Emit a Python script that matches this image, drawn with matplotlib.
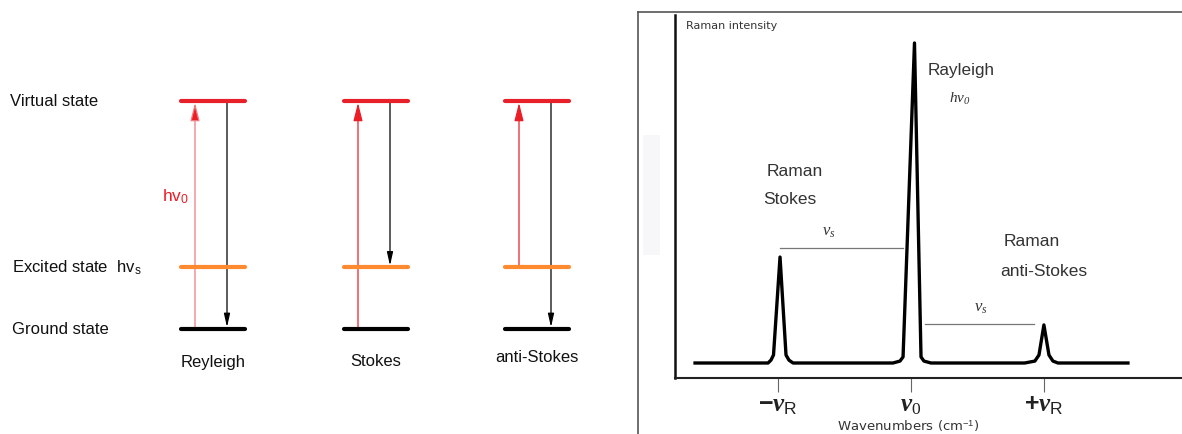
import matplotlib
matplotlib.use('Agg')
import matplotlib.pyplot as plt
from matplotlib.lines import Line2D
from matplotlib.patches import Rectangle

plt.rcParams['font.family'] = ['Liberation Sans', 'DejaVu Sans']
plt.rcParams['mathtext.fontset'] = 'custom'
plt.rcParams['mathtext.rm'] = 'Liberation Sans'
plt.rcParams['mathtext.it'] = 'Liberation Serif:italic:bold'
plt.rcParams['mathtext.bf'] = 'Liberation Sans:bold'
plt.rcParams['mathtext.sf'] = 'Liberation Serif:italic'
plt.rcParams['mathtext.tt'] = 'Liberation Serif'

# ---------------- data ----------------
# energy level diagram (arbitrary energy units)
level_keys = ['virtual', 'excited', 'ground']
level_labels = ['Virtual state', 'Excited state  hv$_{\\rm s}$', 'Ground state']
level_energy = [1.0, 0.27, 0.0]
level_colors = ['#e8202a', '#ff8a30', '#000000']

processes = ['Reyleigh', 'Stokes', 'anti-Stokes']
absorb_from = ['ground', 'ground', 'excited']
emit_to = ['ground', 'excited', 'ground']

# Raman spectrum (wavenumber in units of nu_R relative to nu_0, intensity relative to Rayleigh)
spec_x = [-1.620, -1.071, -1.049, -1.030, -0.981, -0.936, -0.914, -0.883,
          -0.132, -0.079, -0.056, 0.030, 0.079, 0.101, 0.154,
          0.859, 0.935, 0.966, 1.003, 1.041, 1.071, 1.109, 1.635]
spec_y = [0.0, 0.0, 0.009, 0.025, 0.331, 0.025, 0.009, 0.0,
          0.0, 0.006, 0.019, 1.0, 0.019, 0.006, 0.0,
          0.0, 0.006, 0.025, 0.119, 0.025, 0.006, 0.0, 0.0]
tick_pos = [-1, 0, 1]
tick_labels = [r'$\mathbf{-}\nu_{\rm R}$', r'$\nu_{\mathtt{0}}$', r'$\mathbf{+}\nu_{\rm R}$']

W, H = 1182, 434
def fx(p):
    return p / W
def fy(p):
    return 1 - p / H

fig = plt.figure(figsize=(11.82, 4.34), dpi=100)

# ---------------- left: energy diagram ----------------
ax1 = fig.add_axes([0, 0, 630 / W, 1])
ax1.set_xlim(0, 630)
def E(py):
    return (329 - py) / 228.0
ax1.set_ylim(E(434), E(0))
ax1.axis('off')

centers = [213, 376, 537]
half = 32
lev = dict(zip(level_keys, level_energy))
for c in centers:
    for k, col in zip(level_keys, level_colors):
        ax1.plot([c - half, c + half], [lev[k], lev[k]], color=col, lw=3,
                 solid_capstyle='round', zorder=3)

up_colors = ['#f07a80', '#e8202a', '#e8202a']
down_colors = ['#000000', '#888888', '#333333']
for i, c in enumerate(centers):
    # absorption (red up arrow)
    ax1.annotate('', xy=(c - 18, lev['virtual'] - 0.008), xytext=(c - 18, lev[absorb_from[i]]),
                 arrowprops=dict(arrowstyle='-|>,head_length=1.1,head_width=0.28',
                                 color=up_colors[i], lw=0.9, shrinkA=0, shrinkB=0,
                                 fc='#ee1c25', ec=up_colors[i]), zorder=2)
    # emission (black down arrow)
    ax1.annotate('', xy=(c + 14, lev[emit_to[i]] + 0.008), xytext=(c + 14, lev['virtual']),
                 arrowprops=dict(arrowstyle='-|>,head_length=0.8,head_width=0.18',
                                 color=down_colors[i], lw=0.9, shrinkA=0, shrinkB=0,
                                 fc='black', ec='black'), zorder=2)

label_y = [363, 361, 357]
for c, name, ly in zip(centers, processes, label_y):
    fig.text(fx(c), fy(ly), name, ha='center', va='center', fontsize=12, color='#111')

level_label_pos = [(10, 102), (12, 268), (12, 329)]
for (px, py), txt in zip(level_label_pos, level_labels):
    fig.text(fx(px), fy(py), txt, ha='left', va='center', fontsize=12, color='#111')

fig.text(fx(162), fy(197), 'hv$_0$', ha='left', va='center', fontsize=12.5, color='#ee1c25')

# ---------------- right: Raman spectrum ----------------
# outer frame
fig.add_artist(Line2D([fx(638), fx(638)], [fy(12), fy(434)], color='#555', lw=1.2))
fig.add_artist(Line2D([fx(638), fx(1182)], [fy(12), fy(12)], color='#555', lw=1.2))
fig.add_artist(Rectangle((fx(643), fy(255)), fx(660) - fx(643), fy(135) - fy(255),
                         transform=fig.transFigure, color='#f7f7f9', lw=0))

ax2 = fig.add_axes([675 / W, 1 - 378 / H, 1 - 675 / W, (378 - 15) / H])
x0 = 910.5
ppu = 133.0
ax2.set_xlim((675 - x0) / ppu, (1182 - x0) / ppu)
ax2.set_ylim((363 - 378) / 320.0, (363 - 15) / 320.0)
ax2.plot(spec_x, spec_y, color='black', lw=2.4, solid_joinstyle='round')
for s in ['top', 'right']:
    ax2.spines[s].set_visible(False)
ax2.spines['left'].set_linewidth(1.8)
ax2.spines['left'].set_color('#111')
ax2.spines['bottom'].set_linewidth(1.5)
ax2.spines['bottom'].set_color('#222')
ax2.set_yticks([])
ax2.set_xticks(tick_pos)
ax2.set_xticklabels(tick_labels)
ax2.tick_params(axis='x', length=10, width=0.8, color='#666', pad=1, labelsize=18, labelcolor='#222')

# sigma lines
def sx(px):
    return (px - x0) / ppu
def sy(py):
    return (363 - py) / 320.0
ax2.plot([sx(780), sx(903)], [sy(247.5), sy(247.5)], color='#777', lw=0.9)
ax2.plot([sx(925), sx(1034)], [sy(324), sy(324)], color='#777', lw=0.9)

fig.text(fx(686), fy(26), 'Raman intensity', ha='left', va='center', fontsize=8,
         family='DejaVu Sans', color='#333')
fig.text(fx(928), fy(70), 'Rayleigh', ha='left', va='center', fontsize=12.3, color='#333')
fig.text(fx(960), fy(99), r'$\mathsf{h\nu_0}$', ha='center', va='center', fontsize=11, color='#333')
fig.text(fx(795), fy(172), 'Raman', ha='center', va='center', fontsize=12.5, color='#333')
fig.text(fx(790), fy(199), 'Stokes', ha='center', va='center', fontsize=12.5, color='#333')
fig.text(fx(829), fy(232), r'$\mathsf{\nu}_{\mathsf{s}}$', ha='center', va='center', fontsize=12, color='#333')
fig.text(fx(1032), fy(242), 'Raman', ha='center', va='center', fontsize=12.5, color='#333')
fig.text(fx(1044), fy(271), 'anti-Stokes', ha='center', va='center', fontsize=12.5, color='#333')
fig.text(fx(981), fy(308), r'$\mathsf{\nu}_{\mathsf{s}}$', ha='center', va='center', fontsize=12, color='#333')
fig.text(fx(908), fy(426), 'Wavenumbers (cm$^{-1}$)', ha='center', va='center', fontsize=9.5,
         family='DejaVu Sans', color='#333')

fig.savefig('out.png', dpi=100)
